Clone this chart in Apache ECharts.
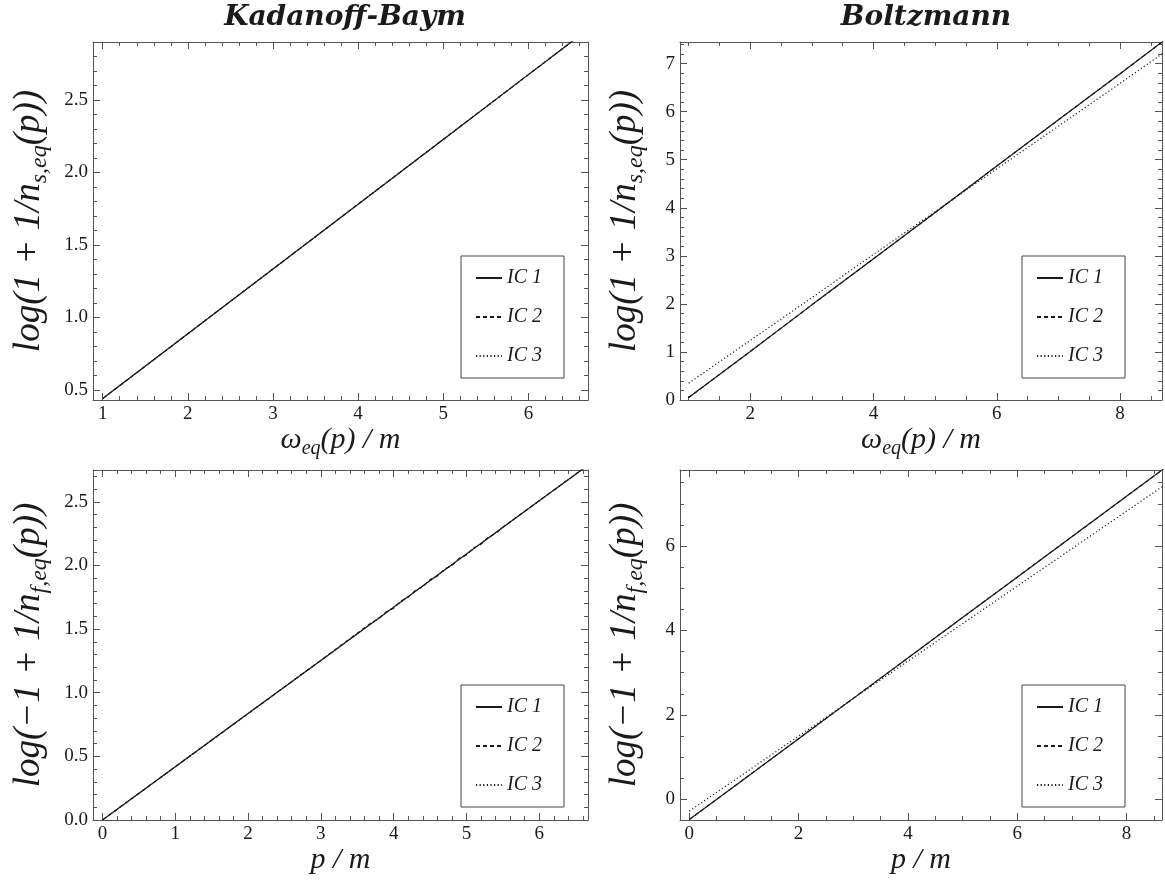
<!DOCTYPE html>
<html>
<head>
<meta charset="utf-8">
<script src="https://cdn.jsdelivr.net/npm/echarts@6/dist/echarts.min.js"></script>
<style>
  html, body { margin: 0; padding: 0; background: #fff; }
  #chart { width: 1165px; height: 884px; }
</style>
</head>
<body>
<div id="chart"></div>
<script>
// legend entries
const icNames = ['IC 1', 'IC 2', 'IC 3'];

// Kadanoff-Baym, bosons (x = omega_eq(p)/m)
const kbBosX = [1, 2, 3, 4, 5, 6, 6.6];
const kbBosIC1 = [0.44, 0.887, 1.334, 1.781, 2.228, 2.675, 2.943];
const kbBosIC2 = [0.44, 0.887, 1.334, 1.781, 2.228, 2.675, 2.943];
const kbBosIC3 = [0.44, 0.887, 1.334, 1.781, 2.228, 2.675, 2.943];

// Boltzmann, bosons
const boBosX = [1, 2, 3, 4, 5, 6, 7, 8, 8.7];
const boBosIC1 = [0.05, 1.01, 1.98, 2.94, 3.90, 4.87, 5.83, 6.79, 7.47];
const boBosIC2 = [0.05, 1.01, 1.98, 2.94, 3.90, 4.87, 5.83, 6.79, 7.47];
const boBosIC3 = [0.35, 1.24, 2.13, 3.03, 3.92, 4.81, 5.70, 6.59, 7.22];

// Kadanoff-Baym, fermions (x = p/m)
const kbFerX = [0, 1, 2, 3, 4, 5, 6, 6.7];
const kbFerIC1 = [0, 0.418, 0.836, 1.254, 1.672, 2.09, 2.508, 2.80];
const kbFerIC3 = [0, 0.418, 0.836, 1.254, 1.672, 2.09, 2.508, 2.80];
// IC 2 shows a little noise between p = 3.7 and 5.5
const kbFerX2 = [0, 1, 2, 3, 3.7, 3.8, 3.9, 4.0, 4.1, 4.2, 4.3, 4.4, 4.5, 4.6, 4.7, 4.8, 4.9, 5.0, 5.1, 5.2, 5.3, 5.4, 5.5, 6, 6.7];
const kbFerIC2 = [0, 0.418, 0.836, 1.254, 1.553, 1.582, 1.637, 1.664, 1.722, 1.749, 1.805, 1.832, 1.889, 1.916, 1.972, 1.999, 2.056, 2.082, 2.138, 2.166, 2.221, 2.250, 2.301, 2.508, 2.80];

// Boltzmann, fermions
const boFerX = [0, 1, 2, 3, 4, 5, 6, 7, 8, 8.7];
const boFerIC1 = [-0.48, 0.477, 1.434, 2.391, 3.348, 4.305, 5.262, 6.219, 7.176, 7.846];
const boFerIC2 = [-0.48, 0.477, 1.434, 2.391, 3.348, 4.305, 5.262, 6.219, 7.176, 7.846];
const boFerIC3 = [-0.28, 0.608, 1.496, 2.384, 3.272, 4.160, 5.048, 5.936, 6.824, 7.446];

const serif = "'Liberation Serif', 'DejaVu Serif', serif";
const frameColor = '#555';
const inkColor = '#1a1a1a';

function nameStyle(size) {
  return {
    color: inkColor,
    fontFamily: serif,
    fontStyle: 'italic',
    fontSize: size,
    rich: {
      i: { fontFamily: serif, fontStyle: 'italic', fontSize: size, color: inkColor },
      s: { fontFamily: serif, fontStyle: 'italic', fontSize: Math.round(size * 0.66), color: inkColor,
           padding: [Math.round(size * 0.6), 0, 0, 0] }
    }
  };
}

function fmt(step, digits) {
  return function (v) {
    const k = Math.round(v / step);
    return Math.abs(v - k * step) < 1e-6 ? (k * step).toFixed(digits) : '';
  };
}

function frameAxis(g, min, max, step, minor, pos) {
  return {
    gridIndex: g, type: 'value', min: min, max: max,
    minInterval: step, maxInterval: step, position: pos,
    splitLine: { show: false },
    axisLine: { show: true, onZero: false, lineStyle: { color: frameColor, width: 1 } },
    axisTick: { show: true, inside: true, length: 7, lineStyle: { color: frameColor } },
    minorTick: { show: true, splitNumber: minor, length: 4, lineStyle: { color: frameColor } },
    axisLabel: { show: false }
  };
}

function labelled(axis, step, digits, name, gap, size) {
  axis.axisLabel = {
    show: true, formatter: fmt(step, digits), margin: 5,
    fontFamily: serif, fontSize: 19, color: inkColor
  };
  axis.name = name;
  axis.nameLocation = 'middle';
  axis.nameGap = gap;
  axis.nameTextStyle = nameStyle(size);
  return axis;
}

const xName1 = '{i|ω}{s|eq}{i|(p) / m}';
const xName2 = '{i|p / m}';
const yNameBos = '{i|log(1 + 1/n}{s|s,eq}{i|(p))}';
const yNameFer = '{i|log(−1 + 1/n}{s|f,eq}{i|(p))}';

const xAxes = [
  labelled(frameAxis(0, 0.886, 6.70, 1, 5, 'bottom'), 1, 0, xName1, 10, 30), frameAxis(0, 0.886, 6.70, 1, 5, 'top'),
  labelled(frameAxis(1, 0.86, 8.68, 2, 4, 'bottom'), 2, 0, xName1, 10, 30), frameAxis(1, 0.86, 8.68, 2, 4, 'top'),
  labelled(frameAxis(2, -0.13, 6.67, 1, 5, 'bottom'), 1, 0, xName2, 14, 30), frameAxis(2, -0.13, 6.67, 1, 5, 'top'),
  labelled(frameAxis(3, -0.17, 8.65, 2, 4, 'bottom'), 2, 0, xName2, 14, 30), frameAxis(3, -0.17, 8.65, 2, 4, 'top')
];
const yAxes = [
  labelled(frameAxis(0, 0.43, 2.9, 0.5, 5, 'left'), 0.5, 1, yNameBos, 41, 37), frameAxis(0, 0.43, 2.9, 0.5, 5, 'right'),
  labelled(frameAxis(1, 0, 7.45, 1, 5, 'left'), 1, 0, yNameBos, 32, 37), frameAxis(1, 0, 7.45, 1, 5, 'right'),
  labelled(frameAxis(2, 0, 2.75, 0.5, 5, 'left'), 0.5, 1, yNameFer, 41, 37), frameAxis(2, 0, 2.75, 0.5, 5, 'right'),
  labelled(frameAxis(3, -0.49, 7.8, 2, 4, 'left'), 2, 0, yNameFer, 32, 37), frameAxis(3, -0.49, 7.8, 2, 4, 'right')
];

const lineTypes = ['solid', [4, 3], [1.2, 2.4]];

function panelSeries(g, xsList, ysList) {
  return ysList.map(function (ys, k) {
    const xs = xsList[k];
    return {
      name: icNames[k], type: 'line', xAxisIndex: 2 * g, yAxisIndex: 2 * g,
      data: xs.map(function (x, i) { return [x, ys[i]]; }),
      showSymbol: false, symbol: 'none', clip: true, silent: true,
      lineStyle: { color: inkColor, width: 1.2, type: lineTypes[k] },
      itemStyle: { color: inkColor }
    };
  });
}

function legendAt(left, top) {
  return {
    left: left, top: top, orient: 'vertical', data: icNames,
    itemGap: 19, itemWidth: 26, itemHeight: 14, padding: [12, 22, 12, 14],
    backgroundColor: '#fff', borderColor: '#444', borderWidth: 1,
    selectedMode: false,
    itemStyle: { color: 'transparent', borderWidth: 0, opacity: 0 },
    textStyle: { fontFamily: serif, fontStyle: 'italic', fontSize: 20, color: inkColor }
  };
}

const titleStyle = {
  fontFamily: "'DejaVu Serif', serif", fontStyle: 'italic', fontWeight: 'bold', fontSize: 28, color: inkColor
};

const chart = echarts.init(document.getElementById('chart'));
chart.setOption({
  animation: false,
  backgroundColor: '#fff',
  title: [
    { text: 'Kadanoff-Baym', left: 340, top: -1, textAlign: 'center', textStyle: titleStyle },
    { text: 'Boltzmann', left: 921, top: -1, textAlign: 'center', textStyle: titleStyle }
  ],
  grid: [
    { left: 93, top: 42, width: 495, height: 358 },
    { left: 680, top: 42, width: 483, height: 358 },
    { left: 93, top: 470, width: 495, height: 350 },
    { left: 680, top: 470, width: 483, height: 350 }
  ],
  legend: [legendAt(461, 256), legendAt(1022, 256), legendAt(461, 685), legendAt(1022, 685)],
  xAxis: xAxes,
  yAxis: yAxes,
  series: [].concat(
    panelSeries(0, [kbBosX, kbBosX, kbBosX], [kbBosIC1, kbBosIC2, kbBosIC3]),
    panelSeries(1, [boBosX, boBosX, boBosX], [boBosIC1, boBosIC2, boBosIC3]),
    panelSeries(2, [kbFerX, kbFerX2, kbFerX], [kbFerIC1, kbFerIC2, kbFerIC3]),
    panelSeries(3, [boFerX, boFerX, boFerX], [boFerIC1, boFerIC2, boFerIC3])
  )
});
</script>
</body>
</html>
